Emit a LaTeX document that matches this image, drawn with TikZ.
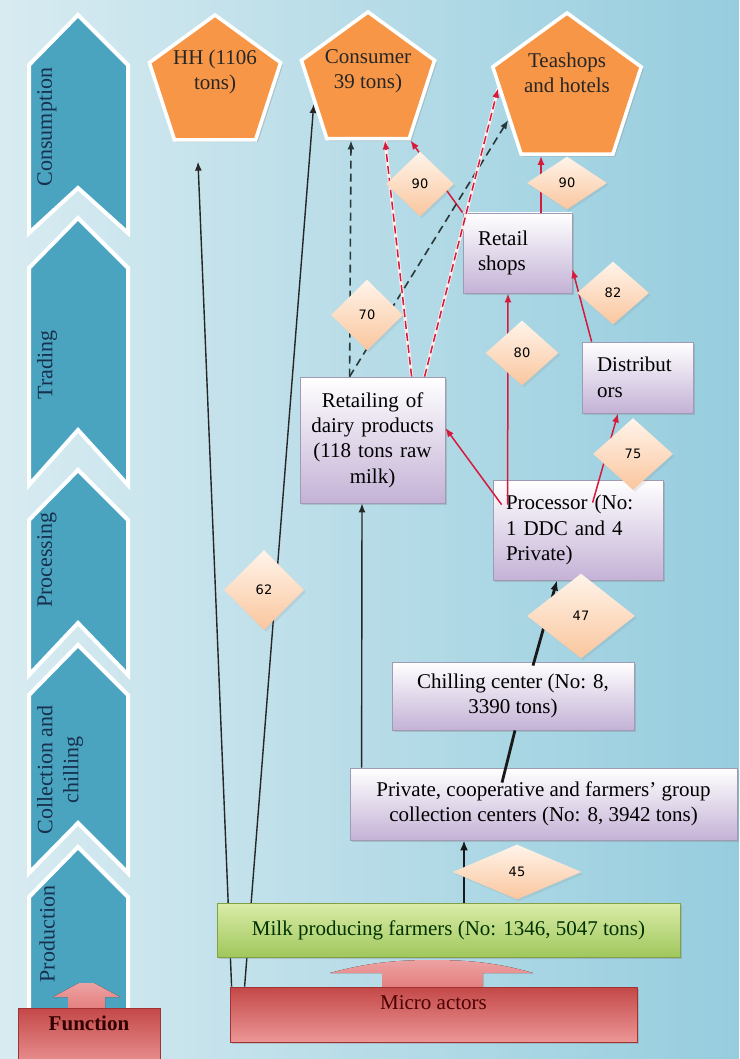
\documentclass[tikz,border=0pt]{standalone}
\usepackage{fontspec}
\setmainfont{Liberation Serif}
\newfontfamily\numfont{DejaVu Sans}
\usetikzlibrary{shapes.geometric,arrows.meta,calc,shadows}
\pgfdeclarelayer{bg}
\pgfdeclarelayer{lines}
\pgfsetlayers{bg,lines,main}
\definecolor{bgleft}{RGB}{216,235,241}
\definecolor{bgright}{RGB}{150,205,222}
\definecolor{chevfill}{RGB}{74,164,191}
\definecolor{chevtxt}{RGB}{22,48,78}
\definecolor{pentfill}{RGB}{247,150,70}
\definecolor{lilac}{RGB}{196,178,214}
\definecolor{boxline}{RGB}{160,155,180}
\definecolor{peach}{RGB}{250,198,158}
\definecolor{peachlight}{RGB}{255,244,234}
\definecolor{milktop}{RGB}{218,236,168}
\definecolor{milkbot}{RGB}{160,199,92}
\definecolor{milkline}{RGB}{130,160,70}
\definecolor{redtop}{RGB}{196,72,72}
\definecolor{redbot}{RGB}{236,150,150}
\definecolor{redline}{RGB}{160,50,50}
\definecolor{arrpink}{RGB}{228,122,122}
\definecolor{flowred}{RGB}{215,25,60}
\definecolor{dashblk}{RGB}{40,55,55}
\newcommand{\boxfont}{\fontsize{10.5}{12.7}\selectfont}

\begin{document}
\begin{tikzpicture}[x=0.5pt,y=-0.5pt,
  chev/.style={fill=chevfill,draw=white,line width=2pt,line join=miter},
  chevlab/.style={rotate=90,text=chevtxt,font=\fontsize{11}{13}\selectfont},
  penta/.style={regular polygon,regular polygon sides=5,inner sep=0pt,fill=pentfill,draw=white,line width=1.8pt,
    drop shadow={shadow xshift=1.2pt,shadow yshift=-1.2pt,opacity=0.3}},
  ptxt/.style={align=center,font=\boxfont,text=black!85},
  box/.style={draw=boxline,line width=0.4pt,top color=white,bottom color=lilac,font=\boxfont,inner sep=0pt,
    drop shadow={shadow xshift=1.2pt,shadow yshift=-1.2pt,opacity=0.3}},
  wt/.style={diamond,inner sep=0pt,top color=peachlight,bottom color=peach,font=\numfont\fontsize{6.5}{7}\selectfont,
    drop shadow={shadow xshift=1pt,shadow yshift=-1pt,opacity=0.15}},
  blk/.style={-{Latex[length=4.5pt,width=3.5pt]},line width=0.7pt,black!85},
  thk/.style={line width=1.4pt,black!90},
  redarr/.style={-{Latex[length=4.5pt,width=3.5pt]},line width=0.75pt,flowred},
  blkdash/.style={-{Latex[length=4.5pt,width=3.5pt]},line width=0.8pt,dashblk,dash pattern=on 4pt off 2.5pt},
  reddash/.style={-{Latex[length=4.5pt,width=3.5pt]},line width=0.75pt,flowred,dash pattern=on 4pt off 2pt,
    preaction={draw,line width=1.6pt,white!70!pink,-}}]
\useasboundingbox (0,0) rectangle (739,1059);
%background and the function chevrons
\begin{pgfonlayer}{bg}
\fill[left color=bgleft,right color=bgright] (0,0) rectangle (739,1059);
\foreach \yt/\yb/\nd in {15/233/45, 218/485/55, 470/675/52, 645/873/50, 847/1015/0}
  \draw[chev] (29,\yt+50) -- (78,\yt) -- (128,\yt+50) -- (128,\yb) -- (78,\yb-\nd) -- (29,\yb) -- cycle;
\end{pgfonlayer}
\node[chevlab] (lcons) at (47,127) {Consumption};
\node[chevlab] (ltrad) at (47,365) {Trading};
\node[chevlab] (lproc) at (47,560) {Processing};
\node[chevlab,align=center] (lcoll) at (60,770) {Collection and\\chilling};
\node[chevlab] (lprod) at (47,934) {Production};
%function and micro actors at the bottom
\fill[top color=arrpink!70!white,bottom color=arrpink] (68,1012) -- (68,997) -- (53,997)
  -- (79,983) -- (94,983) -- (120,997) -- (105,997) -- (105,1012) -- cycle;
\node[draw=redline,top color=redtop,bottom color=redbot,minimum width=71pt,minimum height=30pt,inner sep=0pt] (func) at (89,1038) {};
\node[font=\boxfont\bfseries,text=black!80!red] (funct) at (89,1023) {Function};
\fill[top color=arrpink!70!white,bottom color=arrpink] (382,990) -- (382,973) -- (330,973)
  .. controls (370,962) and (400,960) .. (432,960) .. controls (465,960) and (495,962) .. (533,973)
  -- (483,973) -- (483,990) -- cycle;
\node[draw=redline,top color=redtop,bottom color=redbot,minimum width=203.5pt,minimum height=27.5pt,inner sep=0pt,
  drop shadow={shadow xshift=1.2pt,shadow yshift=-1.2pt,opacity=0.3}] (micro) at (433.5,1014.5) {};
\node[font=\boxfont,text=black!70!red] (microt) at (433.5,1003) {Micro actors};
%consumers
\node[penta,minimum size=69pt] (hh) at (215,84) {};
\node[penta,minimum size=70pt] (cons) at (368,82) {};
\node[penta,minimum size=78pt] (tea) at (567,91) {};
\node[ptxt] (hht) at (215,72) {HH (1106\\tons)};
\node[ptxt] (const) at (368,71) {Consumer\\39 tons)};
\node[ptxt] (teat) at (567,73) {Teashops\\and hotels};
%actors
\node[draw=milkline,top color=milktop,bottom color=milkbot,minimum width=231.5pt,minimum height=27pt,inner sep=0pt,
  font=\boxfont,text=black!80!green,drop shadow={shadow xshift=1.2pt,shadow yshift=-1.2pt,opacity=0.3}]
  (milk) at (448.5,930) {Milk producing farmers (No: 1346, 5047 tons)};
\node[box,minimum width=193.5pt,minimum height=36pt,align=center] (coll) at (543.5,804)
  {Private, cooperative and farmers’ group\\collection centers (No: 8, 3942 tons)};
\node[box,minimum width=121pt,minimum height=34pt,align=center] (chill) at (513,696) {Chilling center (No: 8,\\3390 tons)};
\node[box,text width=72pt,inner xsep=6.5pt,minimum height=50pt,align=left] (proc) at (578,530) {Processor (No:\\1 DDC and 4\\Private)};
\node[box,text width=70pt,inner xsep=1.25pt,minimum height=63pt,align=center] (dairy) at (372.5,440)
  {Retailing of\\dairy products\\(118 tons raw\\milk)};
\node[box,text width=40.5pt,inner xsep=7.5pt,minimum height=35.5pt,align=left] (dist) at (637.5,377.5) {Distribut\\ors};
\node[box,text width=39.5pt,inner xsep=7.5pt,minimum height=40pt,align=left] (shop) at (517.5,253) {Retail\\shops};
%flows behind the farmers box
\begin{pgfonlayer}{lines}
\draw[blk] ($(micro.north west)+(2,0)$) -- ($(hh.south)+(-17,20)$);
\draw[blk] ($(micro.north west)+(15,0)$) -- ($(cons.corner 2)!0.55!(cons.corner 3)$);
\end{pgfonlayer}
%raw milk flows
\draw[blk] ($(coll.north west)+(12,0)$) -- ($(dairy.south)+(-10.5,0)$);
\draw[thk,-{Latex[length=5pt,width=4pt]}] ($(milk.north)+(15.5,0)$) -- ($(coll.south)+(-79.5,0)$);
\draw[thk] ($(coll.north)+(-41.5,15)$) -- ($(chill.south)+(2,0)$);
\draw[thk,-{Latex[length=5pt,width=4pt]}] ($(chill.north)+(20,4)$) -- ($(proc.south)+(-21,0)$);
%processed products
\draw[redarr] ($(proc.north west)+(15,25)$) -- ($(shop.south)+(-9.5,0)$);
\draw[redarr] ($(proc.north west)+(9,25)$) -- ($(dairy.east)+(0,-12)$);
\draw[redarr] ($(proc.north west)+(100,23)$) -- ($(dist.south)+(-19.5,0)$);
\draw[redarr] ($(dist.north west)+(10,0)$) -- ($(shop.north east)!0.7!(shop.south east)$);
\draw[redarr] ($(shop.north)+(23.5,0)$) -- ($(tea.south)+(-26,0)$);
\draw[redarr] (shop.north west) -- (cons.corner 4);
%from retailers of dairy products
\draw[blkdash] ($(dairy.north west)+(50,0)$) -- ($(cons.corner 3)!0.3!(cons.corner 4)$);
\draw[blkdash] ($(dairy.north west)+(50,0)$) -- ($(tea.corner 2)!0.6!(tea.corner 3)$);
\draw[reddash] ($(dairy.north west)+(112,0)$) -- ($(cons.corner 3)!0.7!(cons.corner 4)$);
\draw[reddash] ($(dairy.north west)+(125,0)$) -- ($(tea.corner 2)!0.25!(tea.corner 3)$);
%shares
\node[wt,minimum width=34pt,minimum height=32.5pt] (w90a) at (420,184) {90};
\node[wt,minimum width=40pt,minimum height=26.5pt] (w90b) at (567,183) {90};
\node[wt,minimum width=36pt,minimum height=35.5pt] (w70) at (367,315) {70};
\node[wt,minimum width=36.5pt,minimum height=32.5pt] (w80) at (522,353) {80};
\node[wt,minimum width=36pt,minimum height=31.5pt] (w82) at (613,293) {82};
\node[wt,minimum width=40pt,minimum height=36pt] (w75) at (633,454) {75};
\node[wt,minimum width=54pt,minimum height=42.5pt] (w47) at (581,616) {47};
\node[wt,minimum width=40pt,minimum height=40pt] (w62) at (264,590) {62};
\node[wt,minimum width=64.5pt,minimum height=27.5pt] (w45) at (517,872) {45};
\end{tikzpicture}
\end{document}
